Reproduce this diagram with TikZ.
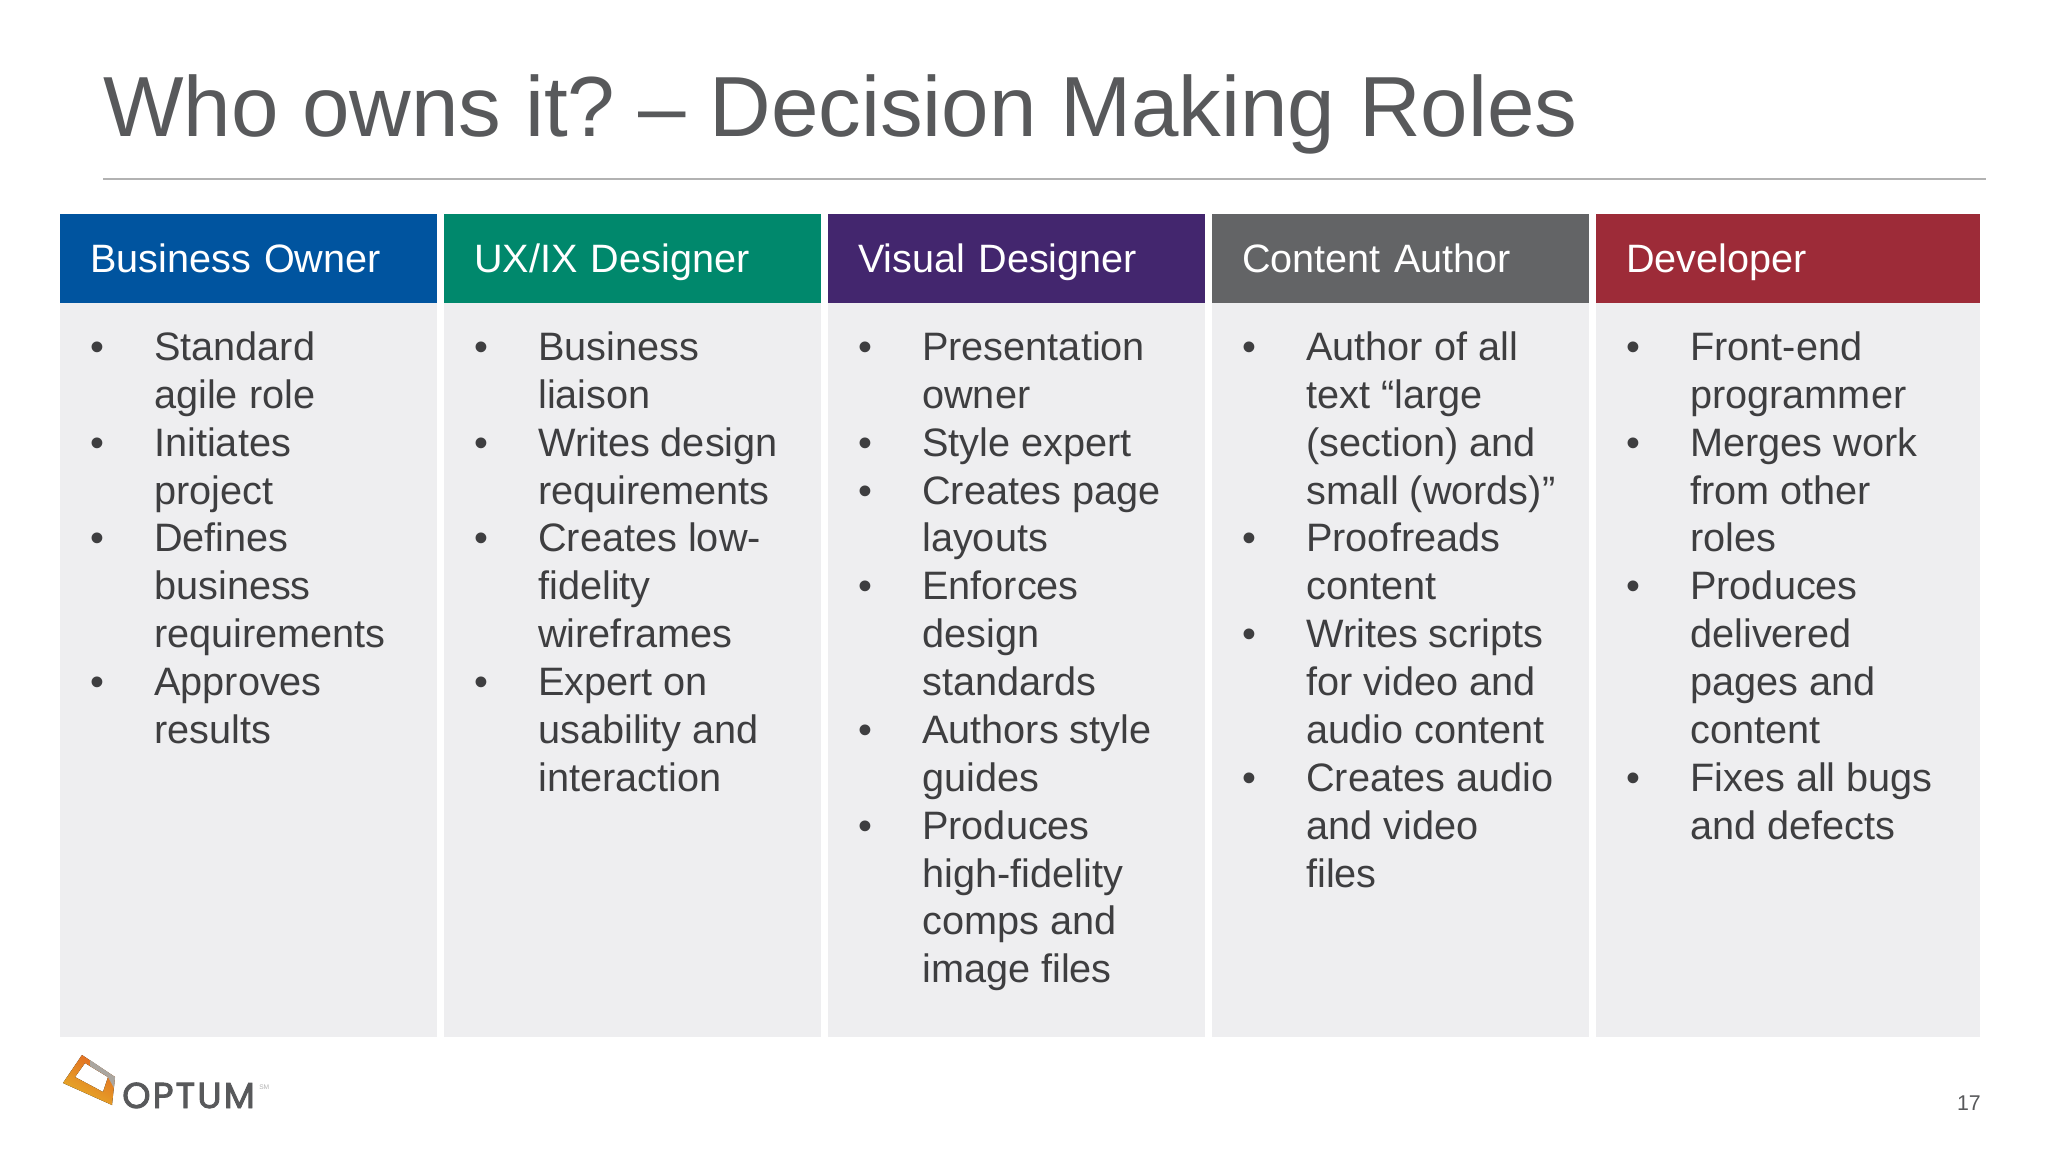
\documentclass[tikz,border=0pt]{standalone}
\usepackage{fontspec}
\setmainfont{Liberation Sans}
\newfontfamily\logofont[FakeBold=2.5,LetterSpace=6]{Poppins}
\definecolor{owner_blue}{RGB}{0, 84, 159}
\definecolor{ux_green}{RGB}{0, 136, 108}
\definecolor{visual_purple}{RGB}{67, 38, 110}
\definecolor{author_grey}{RGB}{99, 100, 102}
\definecolor{dev_red}{RGB}{157, 43, 56}
\definecolor{body_grey}{RGB}{238, 238, 240}
\definecolor{text_grey}{RGB}{88, 89, 91}
\definecolor{list_grey}{RGB}{62, 62, 64}
\definecolor{rule_grey}{RGB}{178, 178, 178}
\definecolor{logo_orange}{RGB}{226, 104, 34}
\definecolor{logo_yellow}{RGB}{230, 176, 40}
\definecolor{logo_grey}{RGB}{170, 166, 160}
\newcommand{\bul}{\leavevmode\llap{\textbullet\hskip 37.5pt}}
\tikzset{
  headbox/.style={shape=rectangle, anchor=north west, minimum width=282.6pt, minimum height=66.75pt, text width=237.6pt, inner xsep=22.5pt, inner ysep=0pt, align=left, text=white, text height=27pt, text depth=6pt, font=\fontsize{29.7}{36}\selectfont},
  bodybox/.style={shape=rectangle, anchor=north west, fill=body_grey, minimum width=282.6pt, minimum height=550pt, inner sep=0pt},
  itemlist/.style={anchor=north west, inner sep=0pt, align=left, text=list_grey, font=\fontsize{29.75}{35.9}\selectfont},
}
\begin{document}
\begin{tikzpicture}[x=0.75pt,y=-0.75pt]
    \useasboundingbox (0,0) rectangle (2048,1152);
    \node[anchor=base west, inner sep=0pt, text=text_grey, font=\fontsize{64}{70}\selectfont] (title) at (103,137) {Who owns it?\kern-6.5pt{} – Decision Making Roles};
    \coordinate (ruleL) at (103,179);
    \coordinate (ruleR) at (1986,179);
    \draw [rule_grey, line width=2pt] (ruleL) -- (ruleR);

    \node[bodybox] (owner_body) at (60,303) {};
    \node[bodybox] (ux_body) at (444,303) {};
    \node[bodybox] (visual_body) at (828,303) {};
    \node[bodybox] (author_body) at (1212,303) {};
    \node[bodybox, minimum width=288pt] (dev_body) at (1596,303) {};

    \node[headbox, fill=owner_blue] (owner_head) at (60,214) {Business Owner};
    \node[headbox, fill=ux_green] (ux_head) at (444,214) {UX/IX Designer};
    \node[headbox, fill=visual_purple] (visual_head) at (828,214) {Visual Designer};
    \node[headbox, fill=author_grey] (author_head) at (1212,214) {Content Author};
    \node[headbox, fill=dev_red, minimum width=288pt, text width=243pt] (dev_head) at (1596,214) {Developer};

    \node[itemlist] (owner_list) at (154,331.5) {\bul Standard\\agile role\\\bul Initiates\\project\\\bul Defines\\business\\requirements\\\bul Approves\\results};
    \node[itemlist] (ux_list) at (538,331.5) {\bul Business\\liaison\\\bul Writes design\\requirements\\\bul Creates low-\\fidelity\\wireframes\\\bul Expert on\\usability and\\interaction};
    \node[itemlist] (visual_list) at (922,331.5) {\bul Presentation\\owner\\\bul Style expert\\\bul Creates page\\layouts\\\bul Enforces\\design\\standards\\\bul Authors style\\guides\\\bul Produces\\high-fidelity\\comps and\\image files};
    \node[itemlist] (author_list) at (1306,331.5) {\bul Author of all\\text “large\\(section) and\\small (words)”\\\bul Proofreads\\content\\\bul Writes scripts\\for video and\\audio content\\\bul Creates audio\\and video\\files};
    \node[itemlist] (dev_list) at (1690,331.5) {\bul Front-end\\programmer\\\bul Merges work\\from other\\roles\\\bul Produces\\delivered\\pages and\\content\\\bul Fixes all bugs\\and defects};

    \fill [even odd rule, left color=logo_yellow, right color=logo_orange, shading angle=150]
        (82,1055) -- (115,1077) -- (112,1105) -- (63,1083) -- cycle
        (85,1063) -- (108,1077) -- (103,1092) -- (75,1077) -- cycle;
    \fill [logo_grey] (90,1060) -- (115,1077) -- (114,1088) -- (108,1077) -- (90,1066) -- cycle;
    \node[anchor=base west, inner sep=0pt, text=text_grey, font=\logofont\fontsize{27}{30}\selectfont] (logo) at (122,1108) {OPTUM};
    \node[anchor=west, inner sep=0pt, text=rule_grey, font=\fontsize{5}{6}\selectfont] (logo_mark) at (259,1087) {SM};
    \node[anchor=base east, inner sep=0pt, text=text_grey, font=\fontsize{16}{18}\selectfont] (page_no) at (1981,1110) {17};
\end{tikzpicture}
\end{document}
